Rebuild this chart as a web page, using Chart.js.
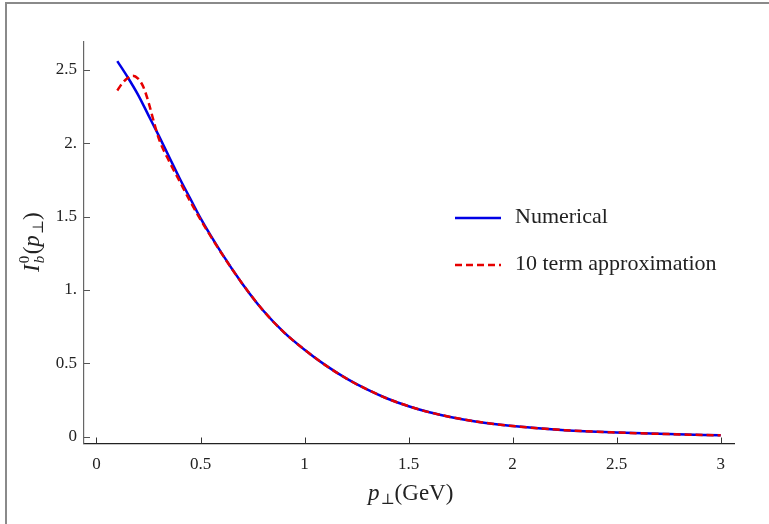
<!DOCTYPE html>
<html>
<head>
<meta charset="utf-8">
<script src="https://cdn.jsdelivr.net/npm/chart.js@4/dist/chart.umd.min.js"></script>
<style>
html,body{margin:0;padding:0;background:#fff;}
#wrap{width:769px;height:524px;position:relative;}
</style>
</head>
<body>
<div id="wrap"><canvas id="c" width="769" height="524"></canvas></div>
<script>
// ---- data ----
const numX = [0.1,0.15,0.2,0.25,0.3,0.35,0.4,0.45,0.5,0.6,0.7,0.8,0.9,1.0,1.1,1.2,1.3,1.4,1.5,1.6,1.7,1.8,1.9,2.0,2.25,2.5,2.75,3.0];
const numY = [2.56,2.45,2.33,2.19,2.05,1.905,1.76,1.625,1.49,1.255,1.045,0.862,0.713,0.593,0.488,0.398,0.323,0.259,0.208,0.167,0.135,0.109,0.089,0.073,0.045,0.029,0.018,0.0095];
const apxX = [0.1,0.125,0.15,0.175,0.2,0.225,0.25,0.275,0.3,0.35,0.4,0.45,0.5,0.6,0.7,0.8,0.9,1.0,1.1,1.2,1.3,1.4,1.5,1.6,1.7,1.8,1.9,2.0,2.25,2.5,2.75,3.0];
const apxY = [2.36,2.41,2.445,2.46,2.44,2.385,2.28,2.15,2.03,1.875,1.74,1.605,1.48,1.252,1.045,0.862,0.713,0.593,0.488,0.398,0.323,0.259,0.208,0.167,0.135,0.109,0.089,0.073,0.045,0.029,0.018,0.0095];
const xTicks = [0,0.5,1,1.5,2,2.5,3];
const xTickLabels = ["0","0.5","1","1.5","2","2.5","3"];
const yTicks = [0,0.5,1,1.5,2,2.5];
const yTickLabels = ["0","0.5","1.","1.5","2.","2.5"];
const seriesNames = ["Numerical","10 term approximation"];

const toPts = (xs, ys) => xs.map((x,i)=>({x:x,y:ys[i]}));
const SERIF = '"Liberation Serif","DejaVu Serif",serif';

const decor = {
  id:'decor',
  beforeDraw(chart){
    const ctx = chart.ctx;
    ctx.save();
    ctx.fillStyle = '#fff';
    ctx.fillRect(0,0,chart.width,chart.height);
    // frame (left + top)
    ctx.strokeStyle = '#8a8a8a';
    ctx.lineWidth = 2;
    ctx.beginPath();
    ctx.moveTo(6,524); ctx.lineTo(6,3); ctx.lineTo(769,3);
    ctx.stroke();
    ctx.restore();
  },
  afterDraw(chart){
    const ctx = chart.ctx;
    const xs = chart.scales.x, ys = chart.scales.y;
    const a = chart.chartArea;
    ctx.save();
    // inward ticks
    ctx.lineWidth = 1;
    ctx.strokeStyle = '#333';
    xTicks.forEach(v=>{
      const px = Math.round(xs.getPixelForValue(v))+0.5;
      ctx.beginPath(); ctx.moveTo(px,a.bottom); ctx.lineTo(px,a.bottom-6); ctx.stroke();
    });
    ctx.strokeStyle = '#555';
    yTicks.forEach(v=>{
      const py = Math.round(ys.getPixelForValue(v))+0.5;
      ctx.beginPath(); ctx.moveTo(a.left,py); ctx.lineTo(a.left+6,py); ctx.stroke();
    });
    // legend
    const lg = [{y:218,color:'#0000e6',dash:[]},{y:265,color:'#e60000',dash:[7,4]}];
    lg.forEach((l,i)=>{
      ctx.strokeStyle = l.color; ctx.lineWidth = 2.5; ctx.setLineDash(l.dash);
      ctx.beginPath(); ctx.moveTo(455,l.y); ctx.lineTo(501,l.y); ctx.stroke();
      ctx.setLineDash([]);
      ctx.fillStyle = '#222';
      ctx.font = '22px '+SERIF;
      ctx.textBaseline = 'middle';
      ctx.textAlign = 'left';
      ctx.fillText(seriesNames[i], 515, l.y-1);
    });
    // x axis title: p⊥(GeV)
    ctx.fillStyle = '#222';
    ctx.textBaseline = 'alphabetic';
    let x0 = 368, yb = 500;
    ctx.font = 'italic 23px '+SERIF;
    ctx.fillText('p', x0, yb); x0 += ctx.measureText('p').width + 1;
    ctx.font = '15px '+SERIF;
    ctx.fillText('⊥', x0, yb+4); x0 += ctx.measureText('⊥').width;
    ctx.font = '23px '+SERIF;
    ctx.fillText('(GeV)', x0, yb);
    // y axis title: I_b^0(p⊥), rotated
    ctx.translate(39, 272);
    ctx.rotate(-Math.PI/2);
    let t = 0;
    ctx.font = 'italic 23px '+SERIF;
    ctx.fillText('I', t, 0); t += ctx.measureText('I').width + 1;
    ctx.font = '15px '+SERIF;
    ctx.fillText('0', t, -10);
    ctx.font = 'italic 15px '+SERIF;
    ctx.fillText('b', t, 5); t += 9;
    ctx.font = '23px '+SERIF;
    ctx.fillText('(', t, 0); t += ctx.measureText('(').width;
    ctx.font = 'italic 23px '+SERIF;
    ctx.fillText('p', t, 0); t += ctx.measureText('p').width + 1;
    ctx.font = '15px '+SERIF;
    ctx.fillText('⊥', t, 4); t += ctx.measureText('⊥').width;
    ctx.font = '23px '+SERIF;
    ctx.fillText(')', t, 0);
    ctx.restore();
  }
};

new Chart(document.getElementById('c'), {
  type:'line',
  data:{
    datasets:[
      {label:seriesNames[0], order:1, data:toPts(numX,numY), borderColor:'#0000e6', borderWidth:2.5, pointRadius:0, cubicInterpolationMode:'monotone', fill:false},
      {label:seriesNames[1], order:0, data:toPts(apxX,apxY), borderColor:'#e60000', borderWidth:2.5, borderDash:[7,4], pointRadius:0, cubicInterpolationMode:'monotone', fill:false}
    ]
  },
  options:{
    responsive:false,
    animation:false,
    devicePixelRatio:1,
    layout:{padding:{left:0,right:35,top:42,bottom:0}},
    plugins:{legend:{display:false},tooltip:{enabled:false}},
    scales:{
      x:{
        type:'linear', min:-0.06, max:3.064,
        afterBuildTicks:(s)=>{s.ticks = xTicks.map(v=>({value:v}));},
        afterFit:(s)=>{s.height = 80.5;},
        grid:{display:true, drawOnChartArea:false, drawTicks:false},
        border:{display:true,color:'#222',width:1.2},
        ticks:{padding:11, color:'#222', font:{family:SERIF,size:17},
          callback:(v)=>{const i=xTicks.indexOf(v);return i>=0?xTickLabels[i]:'';}}
      },
      y:{
        type:'linear', min:-0.046, max:2.69,
        afterBuildTicks:(s)=>{s.ticks = yTicks.map(v=>({value:v}));},
        afterFit:(s)=>{s.width = 84;},
        grid:{display:true, drawOnChartArea:false, drawTicks:false},
        border:{display:true,color:'#666',width:1.2},
        ticks:{padding:7, color:'#222', font:{family:SERIF,size:17},
          callback:(v)=>{const i=yTicks.indexOf(v);return i>=0?yTickLabels[i]:'';}}
      }
    }
  },
  plugins:[decor]
});
</script>
</body>
</html>
